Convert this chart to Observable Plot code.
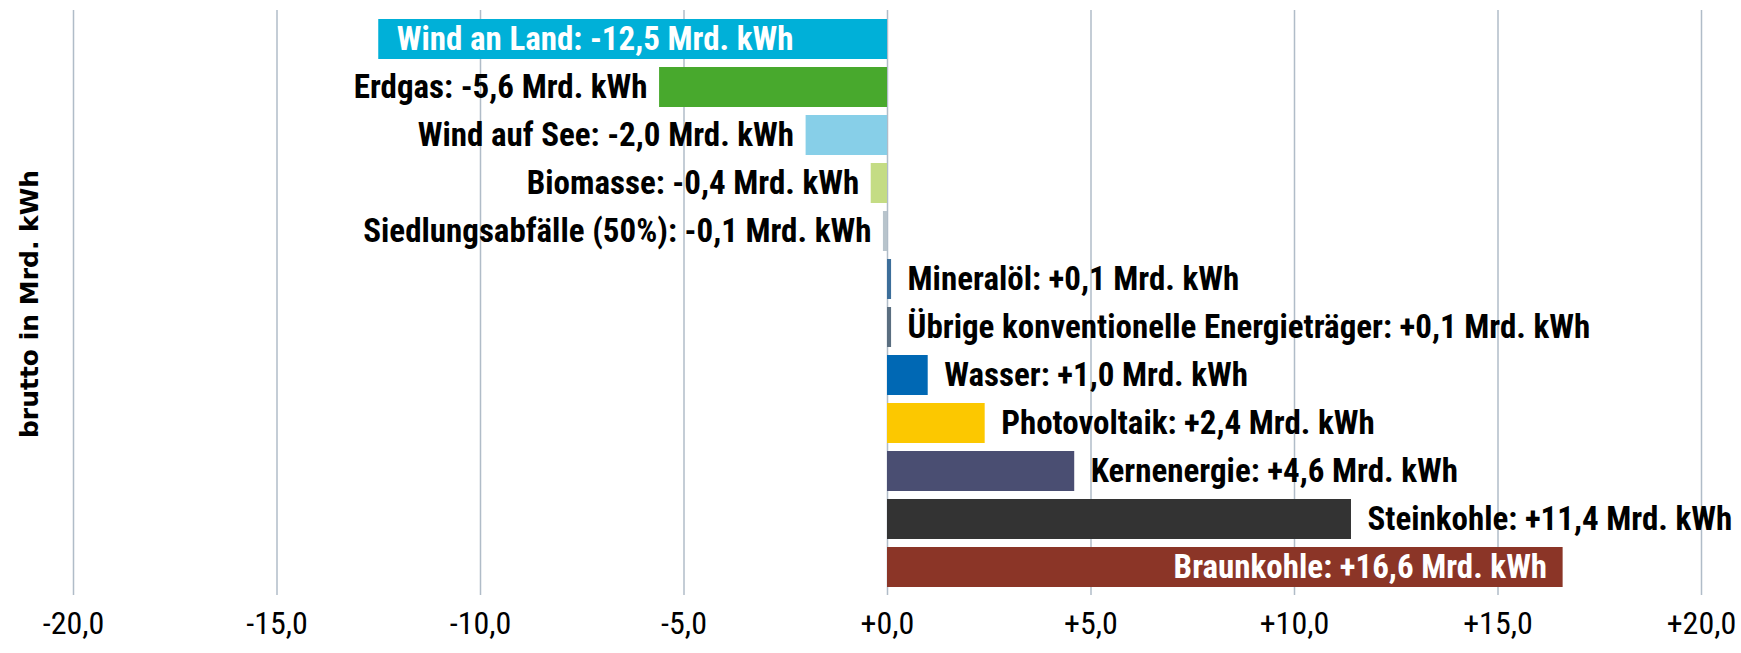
<!DOCTYPE html>
<html><head><meta charset="utf-8">
<script src="https://cdn.jsdelivr.net/npm/d3@7"></script>
<script src="https://cdn.jsdelivr.net/npm/@observablehq/plot@0.6"></script>
<style>body{margin:0;background:#fff}</style>
</head><body><div id="c"></div>
<script>
const categories = ["Wind an Land","Erdgas","Wind auf See","Biomasse","Siedlungsabfälle (50%)","Mineralöl","Übrige konventionelle Energieträger","Wasser","Photovoltaik","Kernenergie","Steinkohle","Braunkohle"];
const values = [-12.5,-5.6,-2.0,-0.4,-0.1,0.1,0.1,1.0,2.4,4.6,11.4,16.6];
const colors = ["#00b0d8","#48a92d","#87cfe8","#c4dc84","#b8c4cc","#3c6e9a","#5a6e80","#0068b4","#fcc800","#4a4e72","#333333","#8b3527"];
const inside = [true,false,false,false,false,false,false,false,false,false,false,true];
const xTicks = [-20,-15,-10,-5,0,5,10,15,20];
const fmtNum = v => (v<0?"-":"+") + Math.abs(v).toFixed(1).replace(".",",");
const data = categories.map((c,i)=>({c, v:values[i], col:colors[i], inside:inside[i], label:`${c}: ${fmtNum(values[i])} Mrd. kWh`}));
const font = "'Liberation Sans Narrow', 'Roboto Condensed', Arial, sans-serif";
const txt = {x:"v", y:"c", text:"label", fontWeight:"bold", fontSize:33};
const chart = Plot.plot({
  width:1741, height:653, marginLeft:73, marginRight:40, marginTop:10, marginBottom:58,
  style:{fontFamily:font, fontSize:"32px", color:"#000"},
  x:{domain:[-20,20], ticks:xTicks, tickFormat:fmtNum, label:null, tickSize:0, tickPadding:16},
  y:{domain:categories, padding:0.17, axis:null},
  marks:[
    Plot.gridX(xTicks,{stroke:"#b0bcc8", strokeOpacity:1, strokeWidth:1.5}),
    Plot.barX(data,{x:"v", y:"c", fill:d=>d.col}),
    Plot.text(data.filter(d=>!d.inside && d.v<0),{...txt, textAnchor:"end", dx:-12, fill:"#000"}),
    Plot.text(data.filter(d=>!d.inside && d.v>0),{...txt, textAnchor:"start", dx:16, fill:"#000"}),
    Plot.text(data.filter(d=>d.inside && d.v<0),{...txt, textAnchor:"start", dx:18, fill:"#fff"}),
    Plot.text(data.filter(d=>d.inside && d.v>0),{...txt, textAnchor:"end", dx:-16, fill:"#fff"})
  ]
});
const svg = d3.select(chart);
svg.append("text").attr("transform","translate(38,304) rotate(-90)").attr("text-anchor","middle")
  .attr("font-family","DejaVu Sans").attr("font-weight","bold").attr("font-size",25).text("brutto in Mrd. kWh");
document.getElementById("c").appendChild(chart);
</script>
</body></html>
